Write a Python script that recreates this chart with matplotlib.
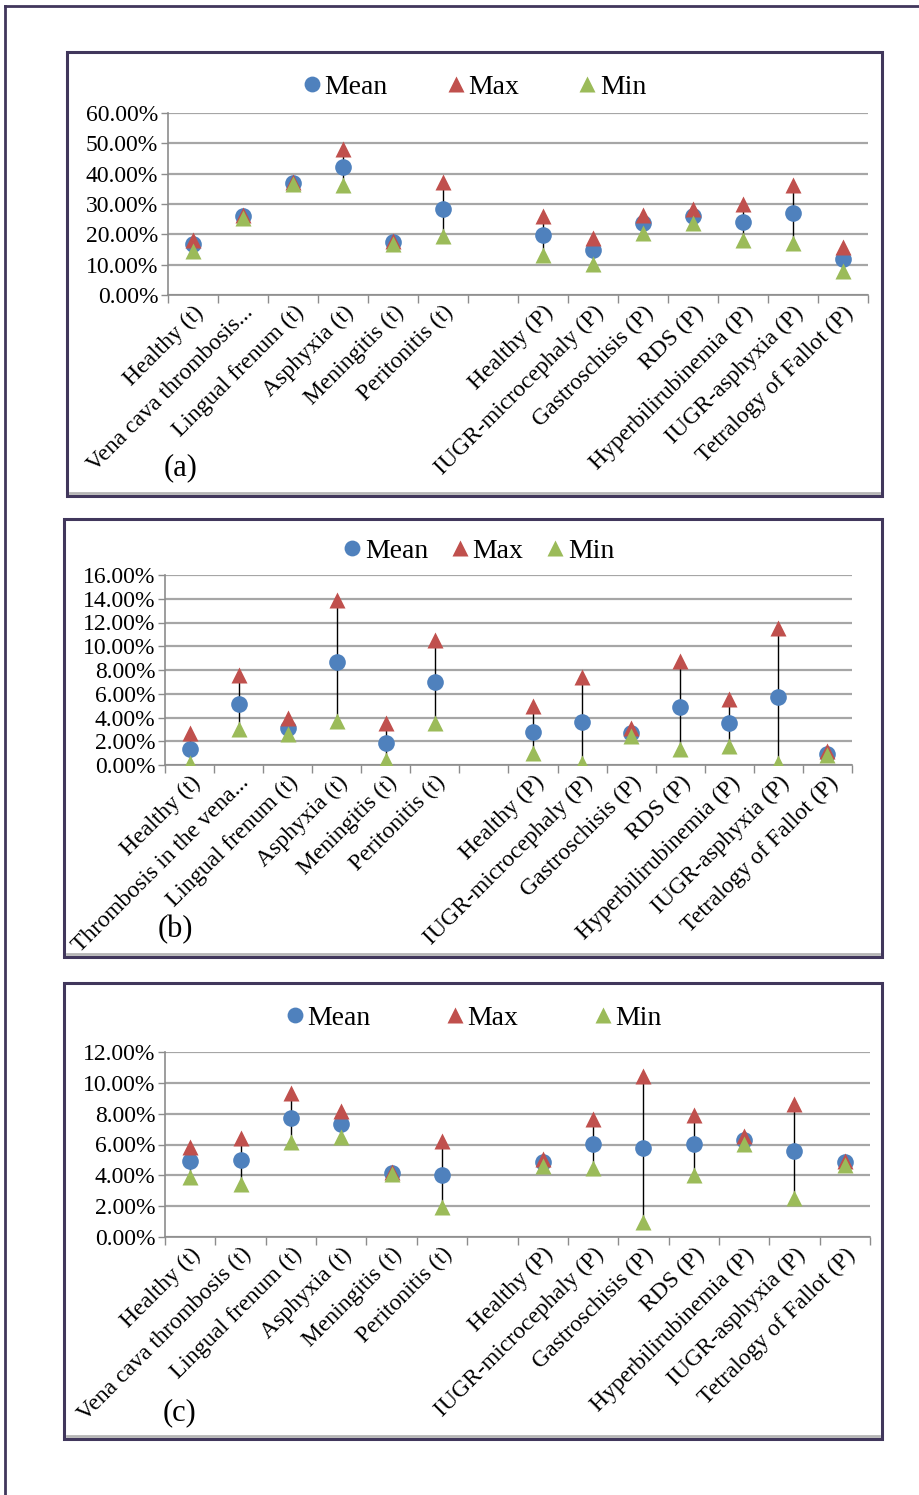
import numpy as np
import matplotlib
matplotlib.use("Agg")
import matplotlib.pyplot as plt
import matplotlib.transforms as mtransforms
from matplotlib.lines import Line2D
from matplotlib.patches import Rectangle
from matplotlib.ticker import FuncFormatter, FixedLocator

plt.rcParams['font.family'] = ['Liberation Serif', 'DejaVu Serif']

nan = np.nan

# category labels (slot 6 is an empty spacer between the two groups)
labels_a = ["Healthy (t)", "Vena cava thrombosis...", "Lingual frenum (t)", "Asphyxia (t)",
            "Meningitis (t)", "Peritonitis (t)", "", "Healthy (P)", "IUGR-microcephaly (P)",
            "Gastroschisis (P)", "RDS (P)", "Hyperbilirubinemia (P)", "IUGR-asphyxia (P)",
            "Tetralogy of Fallot (P)"]
labels_b = ["Healthy (t)", "Thrombosis in the vena...", "Lingual frenum (t)", "Asphyxia (t)",
            "Meningitis (t)", "Peritonitis (t)", "", "Healthy (P)", "IUGR-microcephaly (P)",
            "Gastroschisis (P)", "RDS (P)", "Hyperbilirubinemia (P)", "IUGR-asphyxia (P)",
            "Tetralogy of Fallot (P)"]
labels_c = ["Healthy (t)", "Vena cava thrombosis (t)", "Lingual frenum (t)", "Asphyxia (t)",
            "Meningitis (t)", "Peritonitis (t)", "", "Healthy (P)", "IUGR-microcephaly (P)",
            "Gastroschisis (P)", "RDS (P)", "Hyperbilirubinemia (P)", "IUGR-asphyxia (P)",
            "Tetralogy of Fallot (P)"]

# values in percent
a_mean = [16.7, 26.0, 37.0, 42.3, 17.6, 28.5, nan, 19.8, 14.9, 23.6, 26.0, 24.2, 27.0, 12.0]
a_max = [18.2, 26.5, 37.3, 48.2, 17.8, 37.2, nan, 26.1, 18.9, 26.3, 28.5, 30.0, 36.3, 15.8]
a_min = [14.6, 25.4, 36.5, 36.2, 16.9, 19.6, nan, 13.3, 10.2, 20.6, 23.8, 18.2, 17.3, 7.8]

b_mean = [1.35, 5.1, 3.15, 8.7, 1.85, 6.95, nan, 2.8, 3.65, 2.7, 4.85, 3.5, 5.75, 0.9]
b_max = [2.7, 7.6, 4.0, 13.9, 3.55, 10.5, nan, 5.0, 7.45, 3.1, 8.75, 5.6, 11.5, 1.15]
b_min = [0.2, 3.05, 2.6, 3.7, 0.45, 3.55, nan, 1.05, 0.15, 2.45, 1.35, 1.6, 0.15, 0.85]

c_mean = [4.9, 4.98, 7.75, 7.35, 4.15, 4.05, nan, 4.85, 6.03, 5.77, 6.03, 6.3, 5.56, 4.84]
c_max = [5.85, 6.4, 9.35, 8.2, 4.2, 6.2, nan, 5.05, 7.65, 10.45, 7.9, 6.55, 8.6, 4.9]
c_min = [3.9, 3.45, 6.15, 6.5, 4.1, 1.95, nan, 4.6, 4.45, 1.0, 4.0, 6.05, 2.5, 4.65]

W, H = 919, 1495
BLUE, RED, GREEN = '#4f81bd', '#c0504d', '#9bbb59'
GRID = '#a6a6a6'
FRAME = '#41375c'

fig = plt.figure(figsize=(W / 100, H / 100), dpi=100)
fig.patch.set_facecolor('white')


def px_axes(x0, y0, x1, y1):
    return fig.add_axes([x0 / W, 1 - y1 / H, (x1 - x0) / W, (y1 - y0) / H])


def frame(x0, y0, x1, y1):
    fig.add_artist(Line2D([(x0 + 3) / W, (x1 - 3) / W], [1 - (y1 - 3) / H] * 2,
                          transform=fig.transFigure, color='#b5b5b5', lw=2))
    fig.add_artist(Rectangle((x0 / W, 1 - y1 / H), (x1 - x0) / W, (y1 - y0) / H,
                             transform=fig.transFigure, fill=False, ec=FRAME, lw=2.2))


def panel(box, ax_px, labels, mean, vmax, vmin, ymax, step, leg_xy, colsp, tag, tag_xy):
    frame(*box)
    ax = px_axes(*ax_px)
    x = np.arange(len(labels))
    ax.vlines(x, vmin, vmax, color='black', lw=1.0, zorder=2)
    ax.plot(x, mean, 'o', color=BLUE, ms=12, mec='none', zorder=3, label='Mean')
    ax.plot(x, vmax, '^', color=RED, ms=12, mec='none', zorder=4, label='Max')
    ax.plot(x, vmin, '^', color=GREEN, ms=12, mec='none', zorder=5, label='Min')

    ax.set_xlim(-0.5, len(labels) - 0.5)
    ax.set_ylim(0, ymax)
    ax.set_yticks(np.arange(0, ymax + step / 2, step))
    ax.yaxis.set_major_formatter(FuncFormatter(lambda v, p: f'{v:.2f}%'))
    ax.grid(axis='y', color=GRID, lw=1.6)
    ax.set_axisbelow(True)

    ax.set_xticks(x)
    ax.set_xticklabels(labels, rotation=45, ha='right', rotation_mode='anchor', fontsize=17)
    shift = mtransforms.ScaledTranslation(-8 / 100, 0, fig.dpi_scale_trans)
    for lab in ax.get_xticklabels():
        lab.set_transform(lab.get_transform() + shift)
    ax.xaxis.set_minor_locator(FixedLocator(np.arange(-0.5, len(labels), 1.0)))
    ax.tick_params(axis='x', which='major', length=0, pad=5)
    ax.tick_params(axis='x', which='minor', length=6, color='#8c8c8c', width=1)
    ax.tick_params(axis='y', length=5, color='#8c8c8c', width=1, labelsize=17, pad=2)

    for s in ('top', 'right'):
        ax.spines[s].set_visible(False)
    for s in ('left', 'bottom'):
        ax.spines[s].set_color('#8c8c8c')
        ax.spines[s].set_linewidth(1.2)

    ax.legend(loc='center', bbox_to_anchor=(leg_xy[0] / W, 1 - leg_xy[1] / H),
              bbox_transform=fig.transFigure, ncol=3, frameon=False, fontsize=20,
              handletextpad=0.0, columnspacing=colsp, handlelength=0.9, borderpad=0,
              markerscale=0.95)
    fig.text(tag_xy[0] / W, 1 - tag_xy[1] / H, tag, fontsize=22, ha='center', va='center')
    return ax


panel((67, 52, 882, 496), (168, 113, 868, 295), labels_a, a_mean, a_max, a_min,
      60, 10, (473, 87), 2.0, '(a)', (181, 468))
panel((64, 519, 882, 957), (165, 575, 852, 765), labels_b, b_mean, b_max, b_min,
      16, 2, (477, 551), 0.7, '(b)', (175, 930))
panel((64, 983, 882, 1439), (165, 1052, 870, 1237), labels_c, c_mean, c_max, c_min,
      12, 2, (472, 1018), 2.6, '(c)', (179, 1413))

# outer page border along the top and left edges
fig.add_artist(Line2D([5 / W, 1], [1 - 6 / H] * 2, transform=fig.transFigure, color=FRAME, lw=2))
fig.add_artist(Line2D([5 / W] * 2, [0, 1 - 6 / H], transform=fig.transFigure, color=FRAME, lw=2))

fig.savefig('out.png', dpi=100)
